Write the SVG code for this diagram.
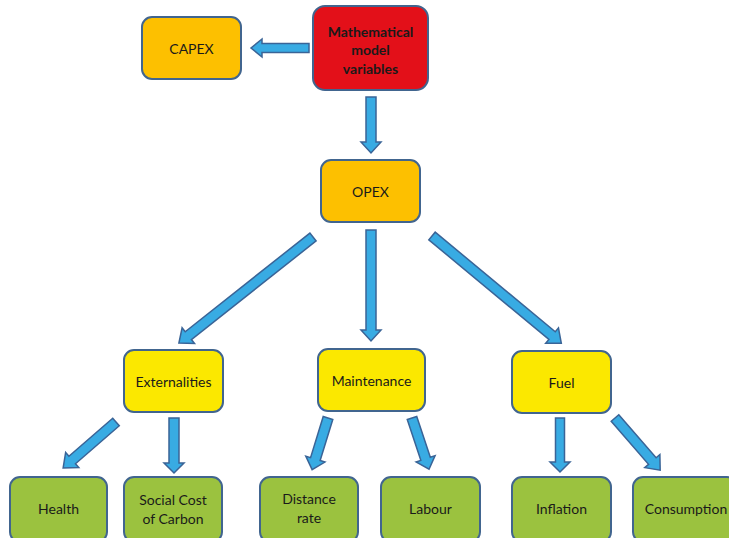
<svg xmlns="http://www.w3.org/2000/svg" width="729" height="538" viewBox="0 0 729 538">
<style>
.box{stroke:#41658f;stroke-width:2}
.orange{fill:#fdc000}
.red{fill:#e31019}
.yellow{fill:#fbe800}
.green{fill:#9bc23f}
.arr{fill:#38abe3;stroke:#3a6497;stroke-width:1.5;stroke-linejoin:miter}
text{font-family:Lato,"Open Sans","Liberation Sans",sans-serif;font-size:14px;fill:#1a1a1a;text-anchor:middle;dominant-baseline:central}
.b{font-weight:bold}
</style>
<rect width="729" height="538" fill="#ffffff"/>
<g id="connectors">
<polygon class="arr" transform="translate(309,48) rotate(180)" points="0,-4.5 47,-4.5 47,-9 58,0 47,9 47,4.5 0,4.5"/>
<polygon class="arr" transform="translate(371,97) rotate(90)" points="0,-5 45,-5 45,-10 56,0 45,10 45,5 0,5"/>
<polygon class="arr" transform="translate(313,237) rotate(141.65)" points="0,-5 159,-5 159,-10 171,0 159,10 159,5 0,5"/>
<polygon class="arr" transform="translate(371,230) rotate(90)" points="0,-5 100,-5 100,-10 111,0 100,10 100,5 0,5"/>
<polygon class="arr" transform="translate(432,236) rotate(39.67)" points="0,-5 156,-5 156,-10 168,0 156,10 156,5 0,5"/>
<polygon class="arr" transform="translate(116,422) rotate(139.04)" points="0,-5 58,-5 58,-10 70,0 58,10 58,5 0,5"/>
<polygon class="arr" transform="translate(174,418) rotate(90)" points="0,-5 45,-5 45,-10 55,0 45,10 45,5 0,5"/>
<polygon class="arr" transform="translate(328,418) rotate(107.1)" points="0,-5 43,-5 43,-10 54,0 43,10 43,5 0,5"/>
<polygon class="arr" transform="translate(412,418) rotate(71.6)" points="0,-5 43,-5 43,-10 54,0 43,10 43,5 0,5"/>
<polygon class="arr" transform="translate(560,418) rotate(90)" points="0,-4.5 44,-4.5 44,-10 54,0 44,10 44,4.5 0,4.5"/>
<polygon class="arr" transform="translate(615,418) rotate(49.1)" points="0,-5 57,-5 57,-10 69,0 57,10 57,5 0,5"/>
</g>
<g id="capex"><rect class="box orange" x="142" y="17" width="99" height="62" rx="10"/><text x="191.5" y="48">CAPEX</text></g>
<g id="math"><rect class="box red" x="313" y="6" width="115" height="84" rx="12"/><text class="b" x="370.5" y="31">Mathematical</text><text class="b" x="370.5" y="49.5">model</text><text class="b" x="370.5" y="68">variables</text></g>
<g id="opex"><rect class="box orange" x="321" y="160" width="99" height="62" rx="10"/><text x="370.5" y="191">OPEX</text></g>
<g id="externalities"><rect class="box yellow" x="124" y="350" width="99" height="62" rx="10"/><text x="173.5" y="381">Externalities</text></g>
<g id="maintenance"><rect class="box yellow" x="318" y="349" width="107" height="62" rx="10"/><text x="371.5" y="380">Maintenance</text></g>
<g id="fuel"><rect class="box yellow" x="512" y="351" width="99" height="62" rx="10"/><text x="561.5" y="382">Fuel</text></g>
<g id="health"><rect class="box green" x="10" y="477" width="97" height="65" rx="10"/><text x="58.5" y="508">Health</text></g>
<g id="social"><rect class="box green" x="124" y="477" width="98" height="65" rx="10"/><text x="173" y="499">Social Cost</text><text x="173" y="518">of Carbon</text></g>
<g id="distance"><rect class="box green" x="260" y="477" width="98" height="65" rx="10"/><text x="309" y="498">Distance</text><text x="309" y="517">rate</text></g>
<g id="labour"><rect class="box green" x="381" y="477" width="99" height="65" rx="10"/><text x="430.5" y="508">Labour</text></g>
<g id="inflation"><rect class="box green" x="512" y="477" width="99" height="65" rx="10"/><text x="561.5" y="508">Inflation</text></g>
<g id="consumption"><rect class="box green" x="633" y="477" width="104" height="65" rx="10"/><text x="686" y="508">Consumption</text></g>
</svg>
